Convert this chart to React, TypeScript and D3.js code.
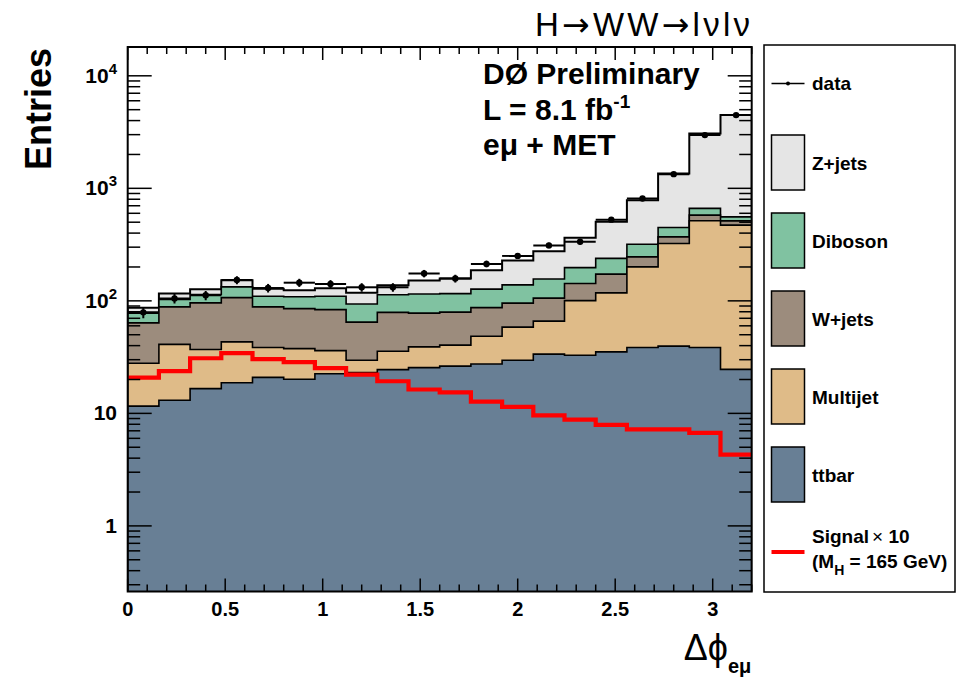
import React from "react";
import * as d3 from "d3";

// ---- data (20 bins of width 0.16 in Δφ_eμ) ----
const binEdges = d3.range(0, 21).map((i) => +(i * 0.16).toFixed(2));
const ttbar = [11.6, 13.1, 16.6, 18.7, 20.9, 20.1, 22.5, 23.0, 24.5, 25.5, 26.3, 27.5, 29.7, 33.6, 32.9, 35.2, 38.5, 39.6, 38.5, 24.6];
const multijet = [16.3, 27.9, 20.4, 24.5, 17.6, 17.5, 13.6, 6.7, 11.2, 13.5, 14.1, 21.0, 28.7, 32.4, 67.5, 82.6, 162, 284, 476, 446];
const wjets = [35.8, 47.4, 59.0, 63.6, 49.9, 47.7, 47.4, 35.0, 43.3, 38.8, 39.0, 38.5, 37.0, 39.7, 42.4, 54.9, 45.4, 47.0, 64, 43];
const diboson = [14.1, 14.6, 18.0, 26.2, 21.6, 23.3, 26.5, 29.1, 34.3, 37.4, 36.5, 40.0, 43.4, 50.9, 54.5, 65.6, 73, 78, 85, 44];
const zjets = [8.9, 13.4, 13.0, 19.8, 18.4, 15.9, 19.7, 24.5, 24.6, 36.6, 42.3, 60.5, 89.8, 120, 166, 266, 466, 907, 2413, 3918];
const dataCounts = [79, 105, 112, 153, 130, 145, 141, 132, 132, 175, 158, 213, 251, 311, 335, 527, 813, 1337, 2972, 4476];
const signalX10 = [20.8, 23.7, 30.9, 34.3, 30.3, 28.5, 25.2, 22.1, 19.3, 16.3, 15.4, 12.7, 11.4, 9.6, 8.8, 7.9, 7.2, 7.2, 6.7, 4.3];

const xTickLabels = ["0", "0.5", "1", "1.5", "2", "2.5", "3"];
const yTickExponents = [0, 1, 2, 3, 4];

const stackNames = ["ttbar", "Multijet", "W+jets", "Diboson", "Z+jets"];
const stackSeries = [ttbar, multijet, wjets, diboson, zjets];
const stackColors = ["#687f95", "#dfbb88", "#9c8c7d", "#80c2a1", "#e5e5e5"];

const FONT = "'Liberation Sans', Arial, Helvetica, sans-serif";
const ARROW_FONT = "'DejaVu Sans', sans-serif";

export default function App() {
  const W = 962, H = 678;
  const x = d3.scaleLinear().domain([0, 3.2]).range([127.7, 751.7]);
  const y = d3.scaleLog().domain([Math.pow(10, -0.583), Math.pow(10, 4.256)]).range([591.5, 47]);
  const [x0, x1] = x.range();
  const [yb, yt] = y.range();

  // cumulative stacks
  const cum: number[][] = [];
  stackSeries.forEach((s, k) => {
    cum.push(s.map((v, i) => v + (k > 0 ? cum[k - 1][i] : 0)));
  });

  const stepPath = (vals: number[], closed: boolean) => {
    let p = closed ? `M${x(binEdges[0])},${yb + 5}` : "";
    vals.forEach((v, i) => {
      const cmd = !closed && i === 0 ? "M" : "L";
      p += `${cmd}${x(binEdges[i])},${y(v)}L${x(binEdges[i + 1])},${y(v)}`;
    });
    if (closed) p += `L${x(binEdges[vals.length])},${yb + 5}Z`;
    return p;
  };

  // ticks
  const xMinor = d3.range(0, 33).map((i) => i * 0.1).filter((v) => v <= 3.2 + 1e-9);
  const yMinor: number[] = [];
  for (let e = -1; e <= 4; e++) {
    for (let m = 2; m <= 9; m++) {
      const v = m * Math.pow(10, e);
      if (v >= y.domain()[0] && v <= y.domain()[1]) yMinor.push(v);
    }
  }

  const legendItems = [
    { name: "Z+jets", color: stackColors[4], cy: 162.5 },
    { name: "Diboson", color: stackColors[3], cy: 240.5 },
    { name: "W+jets", color: stackColors[2], cy: 318.5 },
    { name: "Multijet", color: stackColors[1], cy: 396.5 },
    { name: "ttbar", color: stackColors[0], cy: 474.5 },
  ];

  return (
    <svg width={W} height={H} style={{ position: "absolute", left: 0, top: 0, background: "#fff" }} fontFamily={FONT}>
      <defs>
        <clipPath id="frame">
          <rect x={x0} y={yt} width={x1 - x0} height={yb - yt} />
        </clipPath>
      </defs>
      <rect x={0} y={0} width={W} height={H} fill="#fff" />

      <g clipPath="url(#frame)">
        {/* stacked histograms, largest first */}
        {cum
          .map((c, k) => ({ c, k }))
          .reverse()
          .map(({ c, k }) => (
            <path key={stackNames[k]} d={stepPath(c, true)} fill={stackColors[k]} stroke="#000" strokeWidth={k === 4 ? 2 : 1.6} />
          ))}
        {/* signal x10 */}
        <path d={stepPath(signalX10, false)} fill="none" stroke="#ff0000" strokeWidth={4.2} />
        {/* data */}
        {dataCounts.map((n, i) => {
          const cx = x((binEdges[i] + binEdges[i + 1]) / 2);
          const err = Math.sqrt(n);
          return (
            <g key={"d" + i}>
              <line x1={x(binEdges[i])} x2={x(binEdges[i + 1])} y1={y(n)} y2={y(n)} stroke="#000" strokeWidth={2} />
              <line x1={cx} x2={cx} y1={y(n + err)} y2={y(Math.max(n - err, 0.3))} stroke="#000" strokeWidth={2} />
              <circle cx={cx} cy={y(n)} r={3.2} fill="#000" />
            </g>
          );
        })}
      </g>

      {/* axes ticks */}
      <g stroke="#000" strokeWidth={1.5}>
        {xMinor.map((v, i) => {
          const major = Math.abs(v * 2 - Math.round(v * 2)) < 1e-6;
          const len = major ? 13 : 7;
          return (
            <g key={"xt" + i}>
              <line x1={x(v)} x2={x(v)} y1={yb} y2={yb - len} />
              <line x1={x(v)} x2={x(v)} y1={yt} y2={yt + len} />
            </g>
          );
        })}
        {yMinor.map((v, i) => (
          <g key={"ym" + i}>
            <line x1={x0} x2={x0 + 12.5} y1={y(v)} y2={y(v)} />
            <line x1={x1} x2={x1 - 12.5} y1={y(v)} y2={y(v)} />
          </g>
        ))}
        {yTickExponents.map((e) => (
          <g key={"yM" + e}>
            <line x1={x0} x2={x0 + 24} y1={y(Math.pow(10, e))} y2={y(Math.pow(10, e))} />
            <line x1={x1} x2={x1 - 24} y1={y(Math.pow(10, e))} y2={y(Math.pow(10, e))} />
          </g>
        ))}
      </g>
      <rect x={x0} y={yt} width={x1 - x0} height={yb - yt} fill="none" stroke="#000" strokeWidth={2} />

      {/* x tick labels */}
      {xTickLabels.map((t) => (
        <text key={"xl" + t} x={x(+t)} y={616} textAnchor="middle" fontSize={20} fontWeight="bold">
          {t}
        </text>
      ))}
      {/* y tick labels */}
      {yTickExponents.map((e) => {
        const yy = y(Math.pow(10, e)) + 7;
        if (e === 0) return <text key="yl0" x={117} y={yy} textAnchor="end" fontSize={21} fontWeight="bold">1</text>;
        if (e === 1) return <text key="yl1" x={117} y={yy} textAnchor="end" fontSize={21} fontWeight="bold">10</text>;
        return (
          <text key={"yl" + e} x={117} y={yy} textAnchor="end" fontSize={21} fontWeight="bold">
            10<tspan dy={-9} fontSize={15}>{e}</tspan>
          </text>
        );
      })}

      {/* axis titles */}
      <text transform="translate(51,48) rotate(-90)" textAnchor="end" fontSize={36} fontWeight="bold">Entries</text>
      <text x={728} y={660} textAnchor="end" fontSize={36}>Δϕ</text>
      <text x={728} y={673} fontSize={20} fontWeight="bold">eμ</text>

      {/* title */}
      <text x={535} y={36} fontSize={33} textLength={215} lengthAdjust="spacing">
        H<tspan fontFamily={ARROW_FONT}>→</tspan>WW<tspan fontFamily={ARROW_FONT}>→</tspan>lνlν
      </text>

      {/* annotations */}
      <text x={483} y={84} fontSize={30} fontWeight="bold">DØ Preliminary</text>
      <text x={483} y={120} fontSize={30} fontWeight="bold">
        L = 8.1 fb<tspan dy={-12} fontSize={19}>-1</tspan>
      </text>
      <text x={483} y={155} fontSize={30} fontWeight="bold">eμ + MET</text>

      {/* legend */}
      <rect x={764} y={45} width={191} height={547} fill="#fff" stroke="#000" strokeWidth={1.5} />
      <line x1={771.5} x2={804.5} y1={83.5} y2={83.5} stroke="#000" strokeWidth={1.5} />
      <circle cx={788} cy={83.5} r={2} fill="#000" />
      <text x={812} y={90} fontSize={19} fontWeight="bold">data</text>
      {legendItems.map((it) => (
        <g key={"lg" + it.name}>
          <rect x={771.5} y={it.cy - 27.5} width={33} height={55} fill={it.color} stroke="#000" strokeWidth={1.5} />
          <text x={812} y={it.cy + 7} fontSize={19} fontWeight="bold">{it.name}</text>
        </g>
      ))}
      <line x1={771.5} x2={804.5} y1={552} y2={552} stroke="#ff0000" strokeWidth={4.2} />
      <text x={812} y={543} fontSize={19} fontWeight="bold">
        Signal<tspan fontWeight="normal" dx={3}>×</tspan> 10
      </text>
      <text x={812} y={568} fontSize={19} fontWeight="bold">
        (M<tspan dy={7} fontSize={14}>H</tspan><tspan dy={-7}> = 165 GeV)</tspan>
      </text>
    </svg>
  );
}
